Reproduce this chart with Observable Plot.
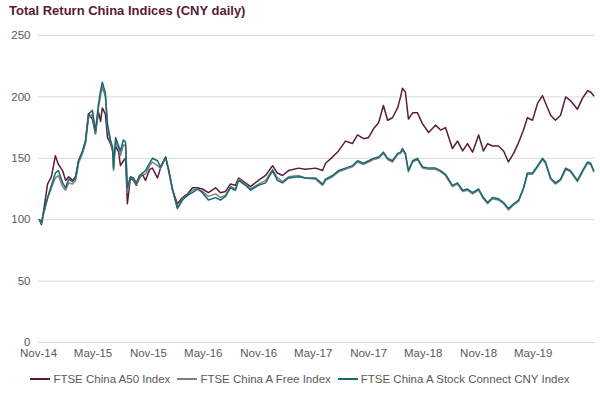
<!DOCTYPE html>
<html><head><meta charset="utf-8">
<script src="https://cdn.jsdelivr.net/npm/d3@7"></script>
<script src="https://cdn.jsdelivr.net/npm/@observablehq/plot@0.6"></script>
<style>
body{margin:0;background:#fff;font-family:"Liberation Sans",Arial,sans-serif;}
#wrap{width:600px;height:393px;position:relative;overflow:hidden;background:#fff}
#title{position:absolute;left:9px;top:3px;font-size:13px;font-weight:bold;color:#5a1a35;white-space:nowrap}
#chart{position:absolute;left:0;top:22px}
#legend{position:absolute;left:0;top:372px;width:600px;display:flex;justify-content:center;gap:7px;font-size:11.5px;color:#595959;line-height:14px}
.item{display:flex;align-items:center;white-space:nowrap}
.sw{width:20px;height:2px;margin-right:3px}
</style>
</head><body>
<div id="wrap">
  <div id="title">Total Return China Indices (CNY daily)</div>
  <div id="chart"></div>
  <div id="legend"></div>
</div>
<script>
const seriesNames = ["FTSE China A50 Index", "FTSE China A Free Index", "FTSE China A Stock Connect CNY Index"];
const seriesColors = ["#5b1c3a", "#808080", "#136a73"];

const dates = [
"2014-11-04","2014-11-11","2014-11-18","2014-12-01","2014-12-14","2014-12-27","2015-01-06","2015-01-20","2015-01-30","2015-02-09",
"2015-02-22","2015-03-04","2015-03-14","2015-03-27","2015-04-06","2015-04-16","2015-04-29","2015-05-09","2015-05-19","2015-05-26",
"2015-06-01","2015-06-11","2015-06-18","2015-06-28","2015-07-05","2015-07-08","2015-07-15","2015-07-25","2015-07-31","2015-08-10",
"2015-08-17","2015-08-23","2015-09-02","2015-09-12","2015-09-22","2015-10-02","2015-10-12","2015-10-22","2015-11-05","2015-11-14",
"2015-12-01","2015-12-11","2015-12-28","2016-01-07","2016-01-20","2016-02-05","2016-02-22","2016-03-10","2016-03-26","2016-04-12",
"2016-04-28","2016-05-18","2016-06-11","2016-06-27","2016-07-14","2016-07-30","2016-08-16","2016-08-26","2016-09-18","2016-10-05",
"2016-10-31","2016-11-24","2016-12-17","2017-01-02","2017-01-19","2017-02-08","2017-03-13","2017-04-05","2017-05-09","2017-06-01",
"2017-06-11","2017-07-04","2017-07-24","2017-08-16","2017-09-08","2017-09-25","2017-10-15","2017-11-01","2017-11-17","2017-12-04",
"2017-12-20","2018-01-03","2018-01-19","2018-02-05","2018-02-15","2018-02-21","2018-03-03","2018-03-13","2018-03-27","2018-04-12",
"2018-04-29","2018-05-19","2018-06-11","2018-06-28","2018-07-14","2018-08-06","2018-08-23","2018-09-09","2018-09-25","2018-10-12",
"2018-11-01","2018-11-17","2018-12-01","2018-12-17","2019-01-06","2019-01-23","2019-02-08","2019-02-25","2019-03-14","2019-03-30",
"2019-04-12","2019-04-29","2019-05-16","2019-06-01","2019-06-11","2019-06-28","2019-07-14","2019-07-31","2019-08-17","2019-09-02",
"2019-09-25","2019-10-12","2019-10-29","2019-11-08","2019-11-18"
];

const a50 = [
100,96,107,129,135,152,145,140,132,135,
132,135,148,155,164,186,182,170,188,180,
191,186,167,162,156,150,160,155,144,148,
150,113,134,132,128,134,137,132,141,142,
134,142,151,141,124,113,118,121,126,126,
125,122,126,122,123,129,128,134,130,127,
132,136,144,138,136,140,142,141,142,140,
146,151,156,164,162,169,166,167,174,179,
193,181,183,191,200,207,204,182,187,187,
178,171,177,173,175,158,164,156,162,155,
169,156,162,160,160,156,147,154,163,173,
183,181,195,201,195,185,181,185,200,197,
190,199,205,204,201
];

const free = [
100,97,105,117,126,134,136,127,124,130,
129,132,146,154,162,183,186,170,191,201,
208,200,175,163,157,140,164,158,152,161,
160,122,134,133,129,135,137,137,144,147,
144,142,151,140,124,110,117,120,124,125,
123,119,121,118,120,127,125,133,129,125,
129,132,141,134,131,135,136,134,133,128,
132,135,139,141,143,147,145,147,149,150,
154,149,147,153,154,157,153,139,147,149,
142,141,141,139,136,127,129,123,124,121,
124,117,113,117,116,113,108,112,115,125,
137,137,143,149,146,133,129,132,141,139,
131,139,146,145,139
];

const connect = [
100,98,106,118,128,138,140,130,126,133,
131,134,148,156,164,186,189,172,194,205,
212,203,178,165,159,142,167,160,156,165,
163,126,135,134,130,136,138,140,146,150,
148,143,151,140,125,109,116,120,122,125,
122,116,118,116,119,126,124,132,128,124,
128,130,140,132,130,134,135,134,134,129,
133,136,140,142,144,148,146,148,150,151,
155,150,148,154,155,158,154,140,148,150,
143,142,142,140,137,128,130,124,125,122,
125,118,114,118,117,114,109,113,116,126,
138,138,144,150,147,134,130,133,142,140,
132,140,147,146,140
];

const xDomain = ["2014-11-01", "2019-11-24"];
const xTickDates = ["2014-11-01","2015-05-01","2015-11-01","2016-05-01","2016-11-01","2017-05-01","2017-11-01","2018-05-01","2018-11-01","2019-05-01"];
const yTicks = [0, 50, 100, 150, 200, 250];

const parse = d3.utcParse("%Y-%m-%d");
const valueSets = [a50, free, connect];
const rows = [];
valueSets.forEach((vals, si) => {
  vals.forEach((v, i) => rows.push({series: seriesNames[si], date: parse(dates[i]), value: v}));
});

const chart = Plot.plot({
  width: 600,
  height: 346,
  marginLeft: 38,
  marginRight: 5,
  marginTop: 13,
  marginBottom: 26,
  style: {fontFamily: "'Liberation Sans', Arial, sans-serif", fontSize: "11.5px", color: "#595959", background: "#fff", overflow: "visible"},
  x: {type: "utc", domain: xDomain.map(parse)},
  y: {domain: [0, 250]},
  marks: [
    Plot.gridY(yTicks, {stroke: "#d9d9d9", strokeOpacity: 1}),
    Plot.axisY(yTicks, {tickSize: 0, tickPadding: 8, label: null, fill: "#595959"}),
    Plot.axisX(xTickDates.map(parse), {tickSize: 0, tickPadding: 6, label: null, tickFormat: d3.utcFormat("%b-%y"), fill: "#595959"}),
    ...seriesNames.map((name, si) => Plot.lineY(rows.filter(r => r.series === name), {
      x: "date", y: "value", stroke: seriesColors[si], strokeWidth: 1.5, strokeLinejoin: "round"
    }))
  ]
});
document.getElementById("chart").appendChild(chart);

const legend = document.getElementById("legend");
seriesNames.forEach((name, i) => {
  const it = document.createElement("div");
  it.className = "item";
  const sw = document.createElement("span");
  sw.className = "sw";
  sw.style.background = seriesColors[i];
  it.appendChild(sw);
  const t = document.createElement("span");
  t.textContent = name;
  it.appendChild(t);
  legend.appendChild(it);
});
</script>
</body></html>
